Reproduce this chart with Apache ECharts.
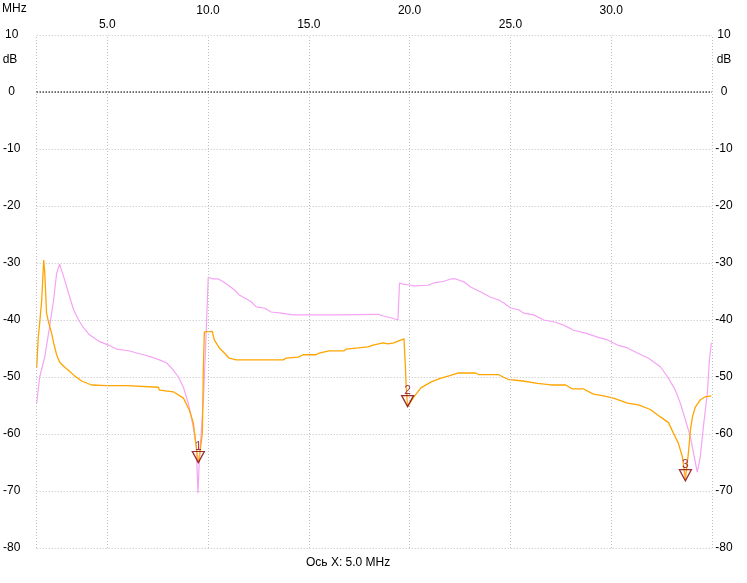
<!DOCTYPE html>
<html>
<head>
<meta charset="utf-8">
<script src="https://cdn.jsdelivr.net/npm/echarts@6/dist/echarts.min.js"></script>
<style>
html,body{margin:0;padding:0;background:#fff;}
#chart{width:747px;height:583px;}
</style>
</head>
<body>
<div id="chart"></div>
<script>
// ---- data ----
const freqMin = 1.5;
const freqMax = 35;
const xTickValues = [5, 10, 15, 20, 25, 30];
const yTickMin = -80;
const yTickMax = 10;
const yTickStep = 10;

const orangeFreq = [1.50, 1.58, 1.65, 1.75, 1.80, 1.85, 1.90, 1.99, 2.09, 2.24, 2.34, 2.49, 2.64, 2.89, 3.13, 3.38, 3.73, 4.22, 4.97, 5.96, 6.05, 7.54, 7.59, 8.28, 8.78, 9.07, 9.27, 9.37, 9.47, 9.52, 9.57, 9.72, 9.77, 9.82, 10.21, 10.31, 10.56, 10.81, 11.05, 11.40, 13.73, 13.88, 14.47, 14.72, 15.36, 15.51, 16.00, 16.75, 16.85, 17.44, 17.94, 18.18, 18.68, 18.93, 19.22, 19.42, 19.72, 19.77, 19.80, 19.82, 19.90, 20.21, 20.56, 21.05, 21.55, 21.95, 22.39, 23.28, 23.43, 24.42, 24.87, 25.61, 26.35, 27.00, 27.74, 28.08, 28.63, 29.12, 29.62, 30.11, 30.81, 31.35, 31.94, 32.44, 32.84, 33.08, 33.33, 33.53, 33.68, 33.83, 33.93, 34.03, 34.17, 34.42, 34.65, 34.97];
const orangeDb = [-48.4, -43.0, -40.5, -36.5, -33.0, -29.5, -31.6, -38.8, -40.4, -42.3, -44.0, -46.1, -47.4, -48.3, -49.0, -49.8, -50.7, -51.4, -51.5, -51.5, -51.8, -51.8, -52.3, -52.6, -53.7, -55.8, -58.0, -61.0, -63.7, -65.0, -64.0, -59.8, -48.2, -42.1, -42.0, -43.5, -44.9, -45.8, -46.7, -47.0, -47.0, -46.7, -46.5, -46.1, -46.1, -45.8, -45.4, -45.4, -45.1, -44.9, -44.7, -44.4, -44.0, -44.2, -44.0, -43.7, -43.3, -43.3, -48.8, -51.0, -55.2, -53.5, -51.9, -50.9, -50.2, -49.8, -49.3, -49.3, -49.6, -49.6, -50.4, -50.7, -51.1, -51.4, -51.4, -52.1, -52.1, -53.0, -53.3, -53.7, -54.6, -54.9, -55.7, -57.0, -58.0, -59.8, -61.6, -64.0, -67.9, -63.3, -59.3, -57.0, -55.3, -54.0, -53.5, -53.3];

const pinkFreq = [1.50, 1.65, 1.90, 2.14, 2.34, 2.49, 2.64, 2.69, 2.89, 3.08, 3.33, 3.58, 3.83, 4.12, 4.57, 5.06, 5.46, 6.05, 6.80, 7.19, 7.59, 7.94, 8.28, 8.53, 8.78, 9.02, 9.17, 9.32, 9.42, 9.50, 9.57, 9.77, 9.82, 9.92, 10.01, 10.26, 10.51, 10.76, 11.00, 11.30, 11.55, 11.80, 12.14, 12.39, 12.79, 13.13, 13.63, 14.22, 16.45, 16.50, 18.43, 18.68, 19.07, 19.42, 19.50, 19.67, 20.06, 20.21, 20.91, 21.20, 21.70, 22.04, 22.29, 22.69, 23.03, 23.53, 24.02, 24.42, 24.67, 25.02, 25.41, 25.66, 26.15, 26.65, 27.24, 27.64, 28.13, 28.73, 29.32, 29.82, 30.31, 30.81, 31.30, 31.85, 32.44, 32.84, 33.18, 33.43, 33.68, 33.93, 34.08, 34.27, 34.42, 34.57, 34.77, 34.87, 34.97];
const pinkDb = [-54.6, -50.0, -46.5, -41.2, -36.5, -31.8, -30.2, -30.0, -33.0, -35.3, -38.2, -40.0, -41.4, -42.6, -43.7, -44.4, -45.1, -45.4, -46.1, -46.5, -47.0, -47.5, -48.8, -50.0, -51.8, -54.6, -57.0, -59.8, -62.3, -70.4, -64.6, -54.0, -50.0, -41.2, -32.5, -32.8, -32.8, -33.3, -33.9, -34.7, -35.6, -36.1, -36.8, -37.7, -37.9, -38.6, -38.8, -39.1, -39.1, -39.0, -39.0, -39.3, -39.6, -40.0, -33.5, -33.7, -33.9, -34.0, -33.9, -33.5, -33.2, -32.8, -32.8, -33.3, -34.2, -35.1, -36.0, -36.5, -37.0, -37.9, -38.2, -38.8, -39.1, -40.0, -40.4, -40.9, -41.8, -42.3, -43.0, -43.5, -44.4, -44.9, -45.8, -46.7, -48.2, -50.2, -52.3, -54.6, -57.5, -60.5, -63.3, -66.7, -64.0, -58.8, -52.8, -47.0, -44.0];

const markerFreq = [9.52, 19.90, 33.68];
const markerDb = [-65.0, -55.2, -68.2];
const markerNames = ['1', '2', '3'];

const xTitle = 'Ось X: 5.0 MHz';
const xUnit = 'MHz';
const yUnit = 'dB';

// ---- build ----
const orangeData = orangeFreq.map((f, i) => [f, orangeDb[i]]);
const pinkData = pinkFreq.map((f, i) => [f, pinkDb[i]]);
const markerData = markerFreq.map((f, i) => ({ value: [f, markerDb[i]], name: markerNames[i] }));

const FONT = '"Liberation Sans", Arial, sans-serif';
const gridGray = '#c0c0c0';

const chart = echarts.init(document.getElementById('chart'), null, { renderer: 'canvas' });

const vLines = [freqMin].concat(xTickValues, [freqMax]).map(v => ({ xAxis: v }));

chart.setOption({
  animation: false,
  backgroundColor: '#ffffff',
  grid: { left: 35, right: 35, top: 35, bottom: 35, containLabel: false },
  xAxis: [{
    type: 'value',
    position: 'top',
    min: freqMin,
    max: freqMax,
    axisLine: { show: false },
    axisTick: { show: false },
    splitLine: { show: false },
    axisLabel: {
      customValues: xTickValues,
      margin: 3,
      color: '#000',
      fontFamily: FONT,
      fontSize: 12,
      lineHeight: 14,
      formatter: v => (Math.round(v) % 10 === 0 ? v.toFixed(1) + '\n ' : v.toFixed(1))
    }
  }],
  yAxis: [{
    type: 'value',
    min: yTickMin,
    max: yTickMax,
    interval: yTickStep,
    position: 'left',
    axisLine: { show: false },
    axisTick: { show: false },
    splitLine: { show: true, lineStyle: { color: gridGray, type: [1, 2], width: 1 } },
    axisLabel: { margin: 25, align: 'center', color: '#000', fontFamily: FONT, fontSize: 12 }
  }, {
    type: 'value',
    min: yTickMin,
    max: yTickMax,
    interval: yTickStep,
    position: 'right',
    axisLine: { show: false },
    axisTick: { show: false },
    splitLine: { show: false },
    axisLabel: { margin: 12, align: 'center', color: '#000', fontFamily: FONT, fontSize: 12 }
  }],
  graphic: [
    { type: 'text', left: 2, top: 3, style: { text: xUnit, font: '12px ' + FONT, fill: '#000' } },
    { type: 'text', x: 10, y: 60, style: { text: yUnit, font: '12px ' + FONT, fill: '#000', align: 'center', verticalAlign: 'middle' } },
    { type: 'text', x: 724, y: 60, style: { text: yUnit, font: '12px ' + FONT, fill: '#000', align: 'center', verticalAlign: 'middle' } },
    { type: 'text', x: 306, y: 563, style: { text: xTitle, font: '12px ' + FONT, fill: '#000', verticalAlign: 'middle' } }
  ],
  series: [{
    type: 'line',
    data: [],
    z: 1,
    silent: true,
    markLine: {
      silent: true,
      symbol: 'none',
      label: { show: false },
      animation: false,
      lineStyle: { color: gridGray, type: [1, 2], width: 1 },
      data: vLines.concat([{ yAxis: 0, lineStyle: { color: '#000', type: [1, 2], width: 1.5 } }])
    }
  }, {
    name: 'pink',
    type: 'line',
    data: pinkData,
    showSymbol: false,
    symbol: 'none',
    z: 3,
    lineStyle: { color: '#f5a3f5', width: 1.2 }
  }, {
    name: 'orange',
    type: 'line',
    data: orangeData,
    showSymbol: false,
    symbol: 'none',
    z: 4,
    lineStyle: { color: '#ffa500', width: 1.3 }
  }, {
    name: 'markers',
    type: 'scatter',
    data: markerData,
    z: 5,
    symbol: 'path://M0,0 L12,0 L6,11 Z',
    symbolSize: [12, 11],
    symbolOffset: [0, '-50%'],
    itemStyle: { color: 'rgba(255,220,200,0.25)', borderColor: '#800000', borderWidth: 1.3 },
    label: {
      show: true,
      position: 'top',
      distance: -2,
      formatter: p => p.name,
      color: '#8b1040',
      fontFamily: FONT,
      fontSize: 12
    }
  }]
});
</script>
</body>
</html>
